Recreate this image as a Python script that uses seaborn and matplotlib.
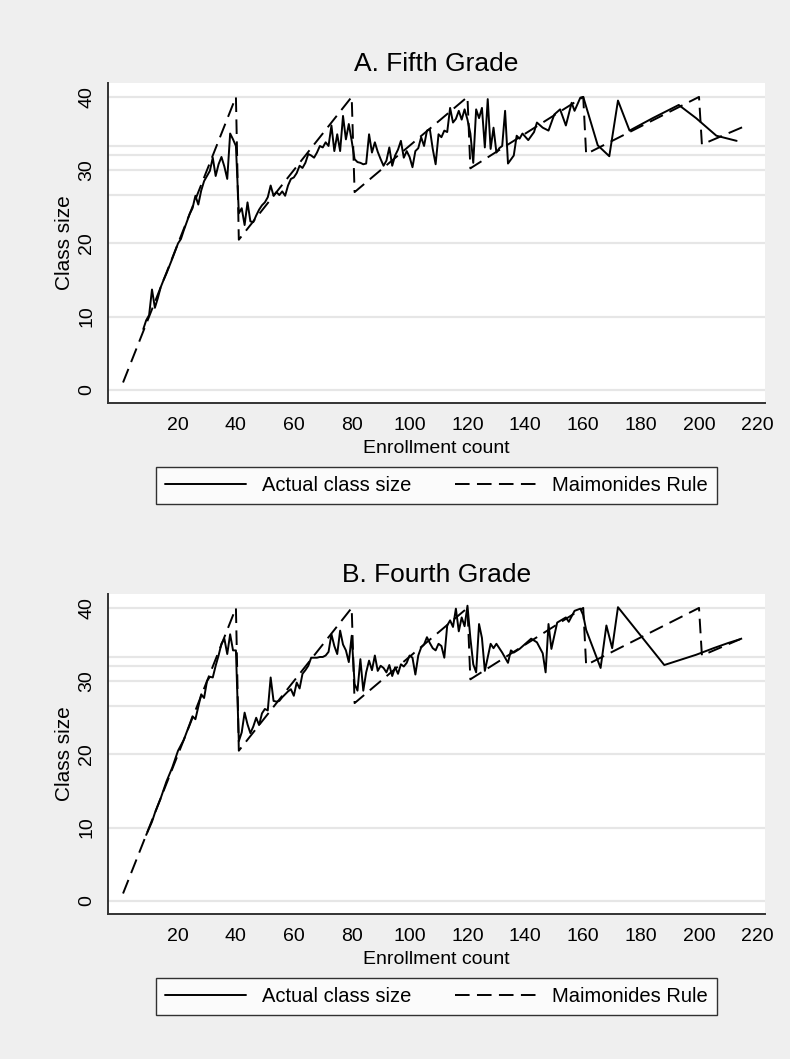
import matplotlib
matplotlib.use("Agg")
import matplotlib.pyplot as plt
import seaborn as sns
import pandas as pd


# --- panel A: fifth grade, actual class size by enrollment count ---
FIFTH_ENROLL = [
    8, 9, 10, 11, 12, 13, 14, 15, 16, 18, 20, 21, 22, 24, 25, 26, 27, 28, 29,
    30, 31, 32, 33, 34, 35, 36, 37, 38, 39, 40,
    41, 42, 43, 44, 45, 46, 47, 48, 49, 50, 51, 52, 53, 54, 55, 56, 57, 58, 59,
    60, 61, 62, 63, 64, 65, 66, 67, 68, 69, 70, 71, 72, 73, 74, 75, 76, 77, 78,
    79, 80,
    81, 82, 83, 84, 85, 86, 87, 88, 89, 90, 91, 92, 93, 94, 95, 96, 97, 98, 99,
    100, 101, 102, 103, 104, 105, 106, 107, 108, 109, 110, 111, 112, 113, 114,
    115, 116, 117, 118, 119, 120,
    121, 122, 123, 124, 125, 126, 127, 128, 129, 130, 131, 132, 133, 134, 136,
    137, 138, 139, 141, 143, 144, 146, 148, 150, 152, 154, 156, 157, 159, 160,
    165, 169, 172, 176, 184, 193, 199, 206, 213,
]
FIFTH_SIZE = [
    8.3, 9.5, 10.2, 13.7, 11.2, 12.5, 14.0, 15.0, 15.9, 17.9, 20.0, 20.6, 21.8,
    24.0, 24.8, 26.5, 25.3, 27.2, 28.5,
    29.2, 29.9, 31.7, 29.2, 30.8, 31.8, 30.5, 28.8, 35.0, 34.2, 33.3,
    24.1, 24.8, 22.5, 25.6, 23.0, 22.9, 23.8, 24.6, 25.2, 25.6, 26.3, 27.9, 26.5,
    27.0, 26.6, 27.1, 26.5, 27.9, 28.8,
    29.0, 29.6, 30.6, 30.3, 31.0, 32.2, 32.0, 31.7, 32.4, 33.3, 33.1, 33.8, 33.3,
    36.1, 32.6, 34.9, 32.6, 37.4, 34.2, 36.3, 34.0,
    31.5, 31.1, 31.0, 30.8, 30.9, 34.9, 32.4, 33.8, 32.5, 31.5, 30.6, 31.3, 33.1,
    30.6, 32.0, 32.8, 34.0, 31.7, 32.6,
    31.8, 30.4, 32.6, 33.0, 34.5, 33.3, 35.4, 35.6, 32.9, 30.8, 34.9, 34.5, 35.4,
    35.2, 38.5, 36.5, 37.0, 38.1, 36.9, 38.3, 36.9,
    35.0, 31.0, 38.3, 37.1, 38.5, 33.1, 39.7, 32.9, 35.8, 32.4, 33.0, 33.3, 38.1,
    30.9, 32.0, 34.7, 34.3, 35.0, 34.1, 35.2, 36.5, 35.8, 35.4, 37.6, 38.3, 36.1,
    39.2, 38.1, 39.9, 40.0,
    33.4, 31.9, 39.5, 35.4, 37.1, 38.9, 37.1, 34.7, 34.0,
]

# --- panel B: fourth grade, actual class size by enrollment count ---
FOURTH_ENROLL = [
    9, 10, 11, 12, 14, 16, 18, 20, 22, 24, 25, 26, 27, 28, 29,
    30, 31, 32, 33, 34, 35, 36, 37, 38, 39, 40,
    41, 42, 43, 44, 45, 46, 47, 48, 49, 50, 51, 52, 53, 54, 55, 56, 57, 58, 59,
    60, 61, 62, 63, 64, 65, 66, 67, 68, 69, 70, 71, 72, 73, 74, 75, 76, 77, 78,
    79, 80,
    81, 82, 83, 84, 85, 86, 87, 88, 89, 90, 91, 92, 93, 94, 95, 96, 97, 98, 99,
    100, 101, 102, 103, 104, 105, 106, 107, 108, 109, 110, 111, 112, 113, 114,
    115, 116, 117, 118, 119, 120,
    121, 122, 123, 124, 125, 126, 128, 129, 130, 132, 133, 134, 135, 136, 138,
    140, 142, 144, 146, 147, 148, 149, 151, 154, 155, 157, 159, 160,
    161, 166, 168, 170, 172, 188, 199, 205, 210, 214,
]
FOURTH_SIZE = [
    9.0, 9.9, 10.8, 12.0, 14.0, 16.3, 18.2, 20.5, 22.0, 24.1, 25.2, 24.8, 26.5,
    28.2, 27.7,
    30.0, 30.6, 30.5, 32.1, 33.5, 35.1, 35.8, 33.7, 36.4, 34.2, 34.2,
    21.8, 23.0, 25.7, 24.1, 22.9, 23.8, 25.0, 24.0, 25.6, 26.2, 26.0, 30.5, 27.3,
    27.2, 27.3, 27.8, 28.2, 28.6, 28.9,
    28.0, 29.8, 29.0, 31.0, 31.5, 32.1, 33.2, 33.2, 33.2, 33.3, 33.3, 33.5, 34.0,
    36.4, 34.8, 33.7, 36.9, 35.0, 34.2, 32.6, 36.2,
    29.6, 28.7, 33.0, 28.7, 31.2, 32.8, 31.5, 33.5, 31.4, 32.1, 31.8, 31.2, 32.2,
    30.7, 31.9, 31.0, 32.3, 32.0, 32.5,
    33.5, 33.2, 30.9, 33.5, 34.6, 35.0, 36.0, 35.2, 34.5, 34.2, 35.1, 34.8, 33.2,
    37.6, 38.3, 37.4, 39.9, 36.8, 38.7, 37.5, 40.3,
    35.9, 32.3, 31.2, 37.8, 35.9, 31.4, 35.1, 34.5, 35.1, 33.9, 33.2, 32.5, 34.2,
    33.9, 34.4, 35.1, 35.8, 35.3, 33.8, 31.2, 37.8, 34.4, 38.0, 38.7, 38.1, 39.6,
    39.9, 39.0,
    37.0, 31.8, 37.6, 34.5, 40.1, 32.2, 33.6, 34.5, 35.2, 35.7,
]

# --- Maimonides rule (predicted class size), break points ---
RULE_ENROLL = [1, 40, 41, 80, 81, 120, 121, 160, 161, 200, 201, 217]
RULE_SIZE = [1.0, 40.0, 20.5, 40.0, 27.0, 40.0, 30.25, 40.0, 32.2, 40.0, 33.5, 36.2]

PANEL_TITLES = ["A. Fifth Grade", "B. Fourth Grade"]
X_TICKS = [20, 40, 60, 80, 100, 120, 140, 160, 180, 200, 220]
Y_TICKS = [0, 10, 20, 30, 40]
Y_EXTRA_LINES = [26.67, 32.0, 33.33]

BG = "#efefef"
GRID = "#e6e6e6"
AXIS = "#333333"

sns.set_style("white")
plt.rcParams["font.family"] = ["Liberation Sans", "DejaVu Sans"]
plt.rcParams["text.color"] = "black"
plt.rcParams["axes.labelcolor"] = "black"

W, H = 790, 1059
fig = plt.figure(figsize=(W / 100, H / 100), dpi=100, facecolor=BG)


def px_rect(left, top, right, bottom):
    return [left / W, 1 - bottom / H, (right - left) / W, (bottom - top) / H]


def draw_panel(ax, title, enroll, size):
    ax.set_facecolor("white")
    actual = pd.DataFrame({"enroll": enroll, "size": size})
    rule = pd.DataFrame({"enroll": RULE_ENROLL, "size": RULE_SIZE})

    sns.lineplot(data=actual, x="enroll", y="size", ax=ax, color="black",
                 lw=1.4, errorbar=None, label="Actual class size")
    sns.lineplot(data=rule, x="enroll", y="size", ax=ax, color="black",
                 lw=1.4, errorbar=None, linestyle=(0, (7.5, 3.8)),
                 label="Maimonides Rule")

    ax.set_xlim(-4.2, 222.8)
    ax.set_ylim(-1.8, 41.9)
    ax.set_xticks(X_TICKS)
    ax.set_yticks(Y_TICKS)
    ax.set_yticks(Y_EXTRA_LINES, minor=True)
    ax.grid(True, axis="y", which="both", color=GRID, lw=1.6)
    ax.set_axisbelow(True)

    for side in ["top", "right"]:
        ax.spines[side].set_visible(False)
    for side in ["left", "bottom"]:
        ax.spines[side].set_color(AXIS)
        ax.spines[side].set_linewidth(1.4)

    ax.tick_params(axis="both", which="both", direction="out", length=6,
                   width=1.1, color=AXIS, labelsize=14, labelcolor="black")
    ax.tick_params(axis="x", pad=4)
    ax.tick_params(axis="y", pad=3)
    for lab in ax.get_yticklabels():
        lab.set_rotation(90)
        lab.set_va("center")

    ax.set_xlabel("Enrollment count", fontsize=14)
    ax.xaxis.set_label_coords(0.5, -0.143)
    ax.xaxis.label.set_va("center")
    ax.set_ylabel("Class size", fontsize=15)
    ax.yaxis.set_label_coords(-0.066, 0.5)
    ax.yaxis.label.set_va("center")

    ax.text(0.5, 1.06, title, transform=ax.transAxes, ha="center",
            va="center", fontsize=19, color="black")

    leg = ax.legend(loc="center", bbox_to_anchor=(0.5, -0.258), ncol=2,
                    fontsize=14.5, frameon=True, fancybox=False,
                    handlelength=4.0, handletextpad=0.8, columnspacing=2.2,
                    borderpad=0.45)
    leg.get_frame().set_edgecolor("black")
    leg.get_frame().set_linewidth(1.0)
    leg.get_frame().set_facecolor("white")
    for txt in leg.get_texts():
        txt.set_color("black")


ax_top = fig.add_axes(px_rect(108, 83, 765, 403))
draw_panel(ax_top, PANEL_TITLES[0], FIFTH_ENROLL, FIFTH_SIZE)

ax_bot = fig.add_axes(px_rect(108, 594, 765, 914))
draw_panel(ax_bot, PANEL_TITLES[1], FOURTH_ENROLL, FOURTH_SIZE)

fig.savefig("out.png", dpi=100, facecolor=BG)
